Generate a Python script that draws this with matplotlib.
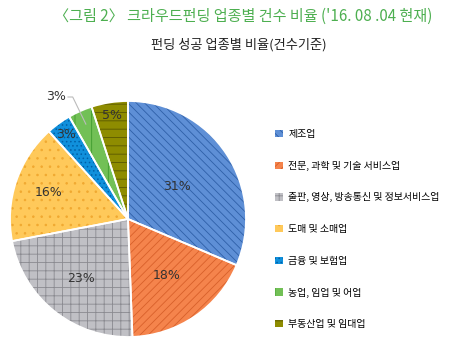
import matplotlib
matplotlib.use("Agg")
import matplotlib.pyplot as plt
from matplotlib.patches import Patch
import numpy as np

plt.rcParams['font.family'] = ['Noto Sans CJK KR', 'DejaVu Sans']
plt.rcParams['hatch.linewidth'] = 0.6

categories = ['제조업', '전문, 과학 및 기술 서비스업', '출판, 영상, 방송통신 및 정보서비스업',
              '도매 및 소매업', '금융 및 보험업', '농업, 임업 및 어업', '부동산업 및 임대업']
values = [31.4, 18.0, 22.6, 16.3, 3.4, 3.3, 5.0]
pct_labels = ['31%', '18%', '23%', '16%', '3%', '3%', '5%']

face = ['#5E8FD6', '#F5844C', '#C0C0C5', '#FFC95A', '#1090DC', '#72C056', '#8E8C00']
hatch_col = ['#2F5FA8', '#D8602A', '#8A8A90', '#F0A830', '#0060A8', '#3E9A2E', '#5A5800']
hatches = ['\\\\\\\\', '////', '++', '..', '....', '|', '--']

W, H = 455, 347
fig = plt.figure(figsize=(W/100, H/100), dpi=100)

cx, cy, r = 128, 219, 118
ax = fig.add_axes([(cx - r)/W, (H - cy - r)/H, 2*r/W, 2*r/H])
ax.axis('off')

wedges, _ = ax.pie(values, colors=face, startangle=90, counterclock=False, radius=1,
                   wedgeprops=dict(linewidth=0))
for w, hc, h in zip(wedges, hatch_col, hatches):
    w.set_hatch(h)
    w.set_edgecolor(hc)
    w.set_linewidth(0)
ax.pie(values, colors=['none']*len(values), startangle=90, counterclock=False, radius=1,
       wedgeprops=dict(linewidth=1.3, edgecolor='white', fill=False))
ax.set_xlim(-1, 1); ax.set_ylim(-1, 1)
ax.set_aspect('equal')

dists = [0.5, 0.58, 0.64, 0.71, 0.89, None, 0.89]
for w, lab, d in zip(wedges, pct_labels, dists):
    ang = np.deg2rad((w.theta1 + w.theta2) / 2)
    if d is None:
        continue
    ax.text(d*np.cos(ang), d*np.sin(ang), lab, ha='center', va='center',
            fontsize=9, color='#333333', family=['DejaVu Sans'])
w = wedges[5]
ang = np.deg2rad((w.theta1 + w.theta2) / 2)
px, py = 0.88*np.cos(ang), 0.88*np.sin(ang)
lx, ly = (68 - cx)/r, (cy - 97)/r
ax.plot([lx, lx + 0.04, px], [ly, ly, py], color='#BBBBBB', lw=0.8, clip_on=False)
ax.text(lx - 0.02, ly, pct_labels[5], ha='right', va='center', fontsize=9,
        color='#333333', family=['DejaVu Sans'])

handles = [Patch(facecolor=f, edgecolor=hc, hatch=h, linewidth=0)
           for f, hc, h in zip(face, hatch_col, hatches)]
fig.legend(handles, categories, loc='upper left', bbox_to_anchor=(271/W, 1 - 125/H),
           frameon=False, fontsize=7.2, handlelength=0.75, handleheight=0.75,
           handletextpad=0.6, labelspacing=2.17, borderaxespad=0)

fig.text(243/W, 1 - 16/H, "〈그림 2〉 크라우드펀딩 업종별 건수 비율 ('16. 08 .04 현재)",
         ha='center', va='center', fontsize=10.9, color='#4DAF50')
fig.text(239/W, 1 - 45/H, "펀딩 성공 업종별 비율(건수기준)", ha='center', va='center',
         fontsize=9.5, color='#222222')

fig.savefig('out.png', dpi=100)
